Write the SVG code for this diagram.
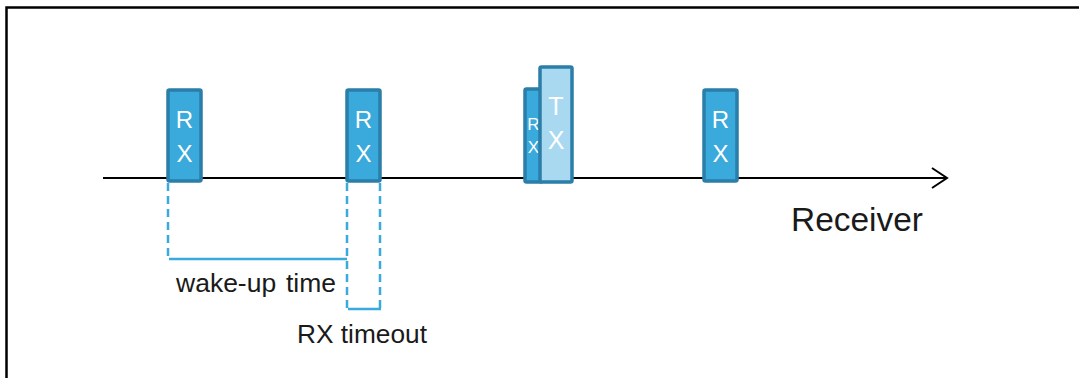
<svg xmlns="http://www.w3.org/2000/svg" width="1079" height="378" viewBox="0 0 1079 378">
<style>
.rx{fill:#3aa9dc;stroke:#2a7ea8;stroke-width:3.5}
.tx{fill:#a9d9f1;stroke:#2a7ea8;stroke-width:3.5}
.bt{fill:#ffffff;font-family:"Liberation Sans",Arial,sans-serif;text-anchor:middle}
.lb{fill:#1a1a1a;font-family:"Liberation Sans",Arial,sans-serif}
.dash{stroke:#3aa9dc;stroke-width:2.5;stroke-dasharray:8 5;fill:none}
.sol{stroke:#3aa9dc;stroke-width:2.5;fill:none}
</style>
<defs>
<marker id="arr" markerWidth="20" markerHeight="24" refX="16" refY="12" orient="auto" markerUnits="userSpaceOnUse">
<path d="M1,2 L16,12 L1,22" fill="none" stroke="#000" stroke-width="2"/>
</marker>
</defs>
<rect width="1079" height="378" fill="#fff"/>
<path d="M6.5,378 V7.5 H1079" fill="none" stroke="#000" stroke-width="2.5"/>
<g id="connectors">
<line x1="103" y1="178" x2="947" y2="178" stroke="#000" stroke-width="2" marker-end="url(#arr)"/>
<line class="dash" x1="168" y1="183" x2="168" y2="256"/>
<line class="sol" x1="169" y1="259" x2="347" y2="259"/>
<line class="dash" x1="347" y1="183" x2="347" y2="310"/>
<line class="dash" x1="380" y1="183" x2="380" y2="310"/>
<line class="sol" x1="348" y1="309" x2="381" y2="309"/>
</g>
<g id="rx1">
<rect class="rx" x="168" y="90" width="33" height="91" rx="1.5"/>
<text class="bt" x="184.5" y="128" font-size="24">R</text>
<text class="bt" x="184.5" y="162" font-size="24">X</text>
</g>
<g id="rx2">
<rect class="rx" x="347" y="90" width="33" height="91" rx="1.5"/>
<text class="bt" x="363.5" y="128" font-size="24">R</text>
<text class="bt" x="363.5" y="162" font-size="24">X</text>
</g>
<g id="rx3">
<rect class="rx" x="525" y="89" width="17" height="93" rx="1.5"/>
<text class="bt" x="533.5" y="130" font-size="17">R</text>
<text class="bt" x="533.5" y="153" font-size="17">X</text>
</g>
<g id="tx">
<rect class="tx" x="540" y="67" width="32" height="115" rx="1.5"/>
<text class="bt" x="556" y="115" font-size="25">T</text>
<text class="bt" x="556" y="149" font-size="25">X</text>
</g>
<g id="rx4">
<rect class="rx" x="704" y="90" width="33" height="91" rx="1.5"/>
<text class="bt" x="720.5" y="128" font-size="24">R</text>
<text class="bt" x="720.5" y="162" font-size="24">X</text>
</g>
<g id="labels">
<text class="lb" x="791" y="231" font-size="33" textLength="132" lengthAdjust="spacingAndGlyphs">Receiver</text>
<text class="lb" x="176" y="292" font-size="26.5">wake-up <tspan x="286">time</tspan></text>
<text class="lb" x="297" y="343" font-size="25" textLength="130" lengthAdjust="spacingAndGlyphs">RX timeout</text>
</g>
</svg>
